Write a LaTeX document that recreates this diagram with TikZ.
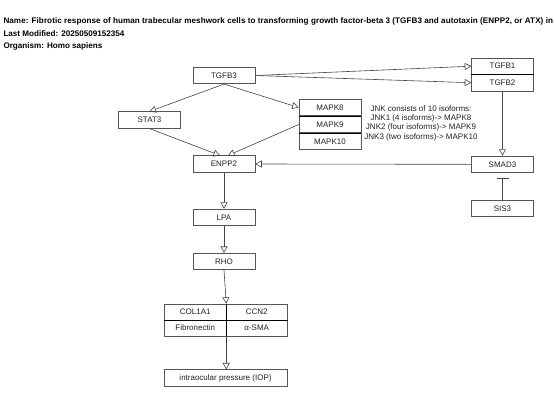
\documentclass[tikz,border=0pt]{standalone}
\usepackage{fontspec}
\setmainfont{Liberation Sans}
\usetikzlibrary{arrows.meta}

\definecolor{linegray}{HTML}{444444}
\definecolor{boxgray}{HTML}{555555}
\definecolor{textgray}{HTML}{222222}

\begin{document}
\begin{tikzpicture}[x=1pt, y=-1pt,
	box/.style={draw=boxgray, line width=0.6pt, rectangle, inner sep=0pt, minimum width=62pt, minimum height=16.5pt, text=textgray, font=\fontsize{8}{9}\selectfont},
	cell/.style={box, minimum width=61.5pt, minimum height=16pt},
	divider/.style={draw=black, line width=1.1pt},
	act/.style={draw=linegray, line width=0.6pt, -{Triangle[open, length=6.5pt, width=7pt]}},
	inh/.style={draw=linegray, line width=0.6pt, -{Bar[width=12pt, line width=0.8pt]}, shorten >=5pt},
	title/.style={anchor=base west, inner sep=0pt, font=\fontsize{8.1}{9}\selectfont\bfseries}]
	\useasboundingbox (0,0) rectangle (554,416);

	\node[title] (T-name) at (3.3, 23) {\addfontfeature{LetterSpace=0.9}Name: Fibrotic response of human trabecular meshwork cells to transforming growth factor-beta 3 (TGFB3 and autotaxin (ENPP2, or ATX) in};
	\node[title] (T-date) at (3.3, 36) {Last Modified: 20250509152354};
	\node[title] (T-org) at (3.3, 48.5) {Organism: Homo sapiens};

	\node[box] (TGFB3) at (224 , 75.5) {TGFB3};
	\node[box] (STAT3) at (149.5 , 120) {STAT3};
	\node[box] (ENPP2) at (224 , 164) {ENPP2};

	\node[box] (MAPK8) at (330 , 107.5) {MAPK8};
	\node[box] (MAPK9) at (330 , 124.5) {MAPK9};
	\node[box] (MAPK10) at (330 , 141.5) {MAPK10};

	\node[box] (TGFB1) at (502.5 , 66.2) {TGFB1};
	\node[box] (TGFB2) at (502.5 , 82.7) {TGFB2};

	\node[box] (SMAD3) at (502.5 , 164.3) {SMAD3};
	\node[box] (SIS3) at (502.5 , 208.3) {SIS3};

	\node[box] (LPA) at (224 , 217.3) {LPA};
	\node[box] (RHO) at (224 , 261.5) {RHO};

	\node[cell] (COL1A1) at (195.2 , 312) {COL1A1};
	\node[cell] (CCN2) at (256.7 , 312) {CCN2};
	\node[cell] (FN1) at (195.2 , 328) {Fibronectin};
	\node[cell] (ASMA) at (256.7 , 328) {α-SMA};

	\node[box, minimum width=123pt] (IOP) at (225.5 , 378) {intraocular pressure (IOP)};

	\node[align=center, inner sep=0pt, text=textgray, font=\fontsize{8}{9.3}\selectfont] (JNK-note) at (421 , 123) {JNK consists of 10 isoforms:\\JNK1 (4 isoforms)-> MAPK8\\JNK2 (four isoforms)-> MAPK9\\JNK3 (two isoforms)-> MAPK10};

	% stacked groups
	\draw[divider] (MAPK8.south west) -- (MAPK8.south east);
	\draw[divider] (MAPK9.south west) -- (MAPK9.south east);
	\draw[divider] (TGFB1.south west) -- (TGFB1.south east);
	\draw[divider] (COL1A1.south west) -- (CCN2.south east);
	\draw[divider] (COL1A1.north east) -- (FN1.south east);

	\draw[act] (TGFB3.east) to (TGFB1.west);
	\draw[act] (TGFB3.east) to (TGFB2.west);

	\draw[act] (TGFB3.south) to (STAT3.north);
	\draw[act] (TGFB3.south) to (MAPK8.west);

	\draw[act] (STAT3.south) to ([xshift=-4pt]ENPP2.north);
	\draw[act] (MAPK9.west) to ([xshift=4pt]ENPP2.north);
	\draw[act] (SMAD3.west) to (ENPP2.east);

	\draw[act] (TGFB2.south) to (SMAD3.north);
	\draw[inh] (SIS3.north) to (SMAD3.south);

	\draw[act] (ENPP2.south) to (LPA.north);
	\draw[act] (LPA.south) to (RHO.north);
	\draw[act] (RHO.south) to (COL1A1.north east);
	\draw[act] (FN1.south east) to (FN1.south east |- IOP.north);

\end{tikzpicture}
\end{document}
